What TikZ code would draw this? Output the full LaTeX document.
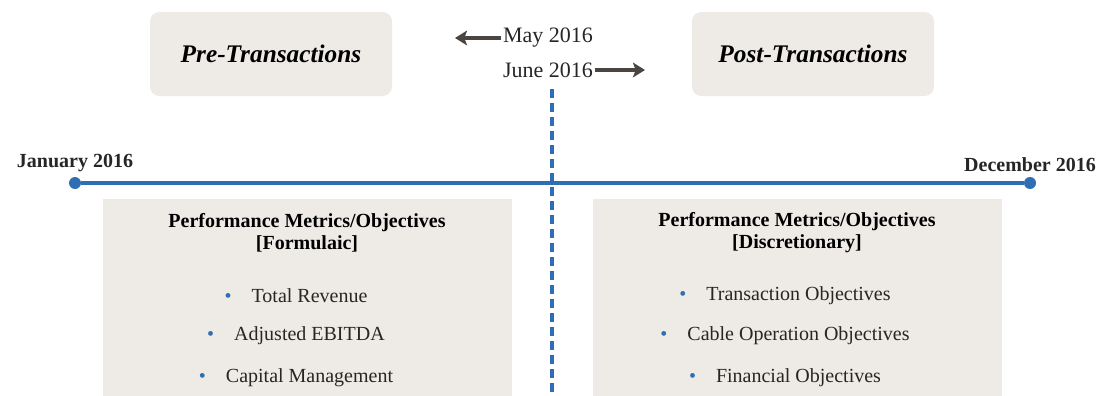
\documentclass[tikz,border=0pt]{standalone}
\usepackage{fontspec}
\setmainfont{Liberation Serif}
\usetikzlibrary{positioning, arrows.meta}
\definecolor{boxfill}{HTML}{EEEAE6}
\definecolor{lineblue}{HTML}{2F6DB5}
\definecolor{arrowgrey}{HTML}{4A4540}
\newcommand{\dotitem}[1]{\textcolor{lineblue}{\textbullet}\hspace{1em}#1}

\begin{document}
\begin{tikzpicture}[x=0.75pt,y=-0.75pt,
    phasebox/.style={fill=boxfill,rounded corners=7pt,minimum width=181.5pt,minimum height=63pt,font=\fontsize{19}{22}\selectfont\bfseries\itshape},
    metricbox/.style={fill=boxfill,minimum width=306.75pt,minimum height=147.75pt,anchor=north},
    metrictitle/.style={align=center,font=\fontsize{15}{16.5}\selectfont\bfseries},
    metricitem/.style={font=\fontsize{15}{18}\selectfont,text=black!85},
    datetext/.style={font=\fontsize{16.5}{19}\selectfont,text=black!85,inner sep=1pt},
    enddot/.style={circle,fill=lineblue,inner sep=0pt,minimum size=9pt},
    endlabel/.style={font=\fontsize{15}{18}\selectfont\bfseries,text=black!85},
    shiftarrow/.style={draw=arrowgrey,line width=3pt,-{Stealth[length=9pt,width=11pt,inset=2pt]}}]
    \useasboundingbox (0,0) rectangle (1103,396);

    % phases
    \node[phasebox] (pre) at (271,54) {Pre-Transactions};
    \node[phasebox] (post) at (813,54) {Post-Transactions};

    % dates and shift arrows
    \node[datetext] (may) at (548,38) {May 2016};
    \node[datetext] (june) at (548,70) {June 2016};
    \coordinate (mayend) at (455,38);
    \coordinate (juneend) at (645,70);
    \draw[shiftarrow] (may.west) -- (mayend);
    \draw[shiftarrow] (june.east) -- (juneend);

    % metric boxes
    \node[metricbox] (formulaic) at (307.5,199) {};
    \node[metricbox] (discretionary) at (797.5,199) {};

    % timeline
    \node[enddot,label={[endlabel,label distance=0pt]above:January 2016}] (jan) at (75,183) {};
    \node[enddot,label={[endlabel,label distance=0pt]above:December 2016}] (dec) at (1030,183) {};
    \draw[lineblue,line width=2.5pt] (jan) -- (dec);
    \coordinate (splittop) at (552,89);
    \coordinate (splitbottom) at (552,396);
    \draw[lineblue,line width=2.5pt,dash pattern=on 6.5pt off 4pt] (splittop) -- (splitbottom);

    \node[metrictitle] (ftitle) at (307,233) {Performance Metrics/Objectives\\{}[Formulaic]};
    \node[metricitem] (revenue) at (296,296) {\dotitem{Total Revenue}};
    \node[metricitem] (ebitda) at (296,336) {\dotitem{Adjusted EBITDA}};
    \node[metricitem] (capital) at (296,378) {\dotitem{Capital Management}};

    \node[metrictitle] (dtitle) at (797,233) {Performance Metrics/Objectives\\{}[Discretionary]};
    \node[metricitem] (transaction) at (785,296) {\dotitem{Transaction Objectives}};
    \node[metricitem] (cable) at (785,336) {\dotitem{Cable Operation Objectives}};
    \node[metricitem] (financial) at (785,378) {\dotitem{Financial Objectives}};
\end{tikzpicture}
\end{document}
